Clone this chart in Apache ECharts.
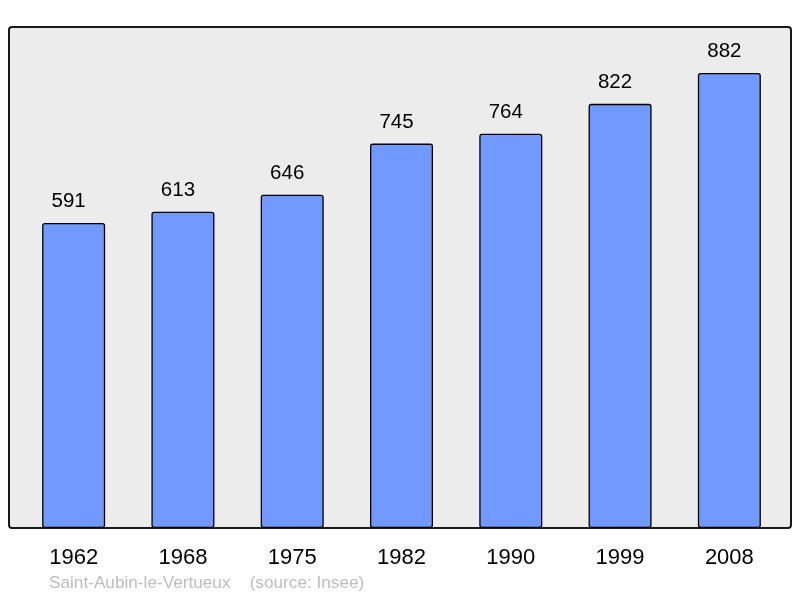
<!DOCTYPE html>
<html>
<head>
<meta charset="utf-8">
<script src="https://cdn.jsdelivr.net/npm/echarts@6/dist/echarts.min.js"></script>
<style>
  html, body { margin: 0; padding: 0; background: #fff; }
  #app { width: 800px; height: 598px; }
</style>
</head>
<body>
<div id="app"></div>
<script>
  // population par recensement
  const years = ["1962", "1968", "1975", "1982", "1990", "1999", "2008"];
  const population = [591, 613, 646, 745, 764, 822, 882];
  const commune = "Saint-Aubin-le-Vertueux";
  const source = "(source: Insee)";

  let myChart = echarts.init(document.getElementById("app"));
  let option = {
    animation: false,
    textStyle: { fontFamily: "Liberation Sans, Arial, sans-serif" },
    grid: {
      left: 19,
      right: 16,
      top: 28,
      bottom: 70,
    },
    graphic: [
      {
        type: "rect",
        z: -10,
        shape: { x: 9, y: 27, width: 782, height: 501, r: 3 },
        style: { fill: "#ececec", stroke: "#1a1a1a", lineWidth: 2 },
      },
      {
        type: "text",
        left: 49,
        top: 575,
        style: {
          text: commune + "    " + source,
          fill: "#bdbdbd",
          fontSize: 17.2,
          fontFamily: "Liberation Sans, Arial, sans-serif",
        },
      },
    ],
    xAxis: {
      type: "category",
      data: years,
      axisLine: { show: false },
      axisTick: { show: false },
      axisLabel: {
        color: "#000",
        fontSize: 22,
        margin: 19,
      },
    },
    yAxis: {
      type: "value",
      min: 0,
      max: 969,
      show: false,
      splitLine: { show: false },
    },
    series: [
      {
        type: "bar",
        data: population,
        barWidth: 63,
        itemStyle: {
          color: "#7299ff",
          borderColor: "#000",
          borderWidth: 1.3,
          borderRadius: 2,
        },
        label: {
          show: true,
          position: "top",
          distance: 11,
          offset: [-5, 0],
          color: "#000",
          fontSize: 20.5,
        },
      },
    ],
  };
  myChart.setOption(option);
</script>
</body>
</html>
